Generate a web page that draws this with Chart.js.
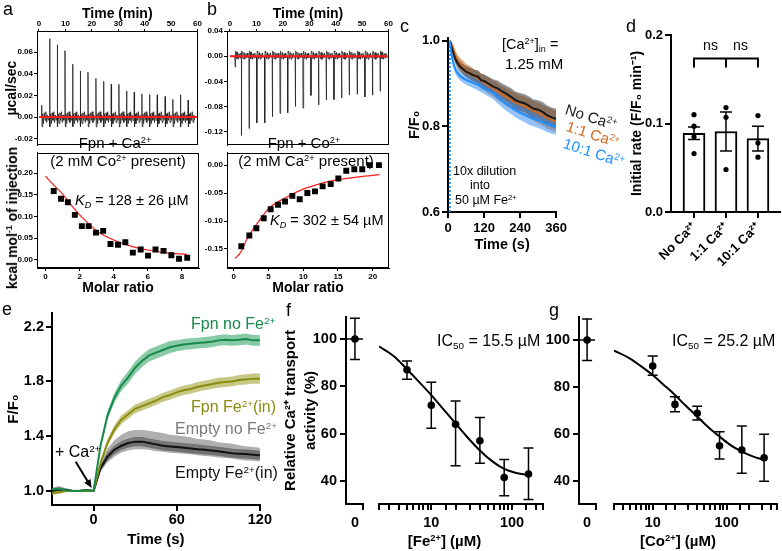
<!DOCTYPE html>
<html>
<head>
<meta charset="utf-8">
<title>Fpn Ca2+ transport</title>
<script src="https://cdn.jsdelivr.net/npm/chart.js@4.4.1/dist/chart.umd.min.js"></script>
<style>
  html, body { margin: 0; padding: 0; background: #fff; }
  body { width: 782px; height: 551px; position: relative; overflow: hidden; font-family: "Liberation Sans", Arial, sans-serif; color: #000; }
  canvas { position: absolute; }
  .t { position: absolute; white-space: nowrap; line-height: 1; }
  .t sup { font-size: 62%; vertical-align: 0.55em; line-height: 0; }
  .t sub { font-size: 62%; vertical-align: -0.3em; line-height: 0; }
</style>
</head>
<body>
<script>
// ---------- a: ITC, Fpn + Ca2+ (2 mM Co2+ present) ----------
const itcTimeRange = [0, 60];
const timeTicks = [0, 10, 20, 30, 40, 50, 60];
const injTimeA = [1.0, 4.0, 6.9, 9.8, 12.7, 15.6, 18.5, 21.5, 24.4, 27.3, 30.2, 33.1, 36.0, 38.9, 41.8, 44.7, 47.7, 50.6, 53.5, 56.4];
const injPeakA = [0.011, 0.0725, 0.0669, 0.0615, 0.049, 0.0427, 0.0415, 0.0358, 0.0331, 0.0304, 0.0304, 0.0242, 0.0233, 0.0215, 0.0209, 0.0206, 0.0191, 0.0164, 0.0206, 0.0158];
const noiseA = [0.003, -0.006, 0.004, -0.003, 0.005, -0.005, 0.002, -0.003];
const molarA = [0.48, 0.91, 1.31, 1.72, 2.13, 2.53, 2.96, 3.38, 3.81, 4.25, 4.68, 5.12, 5.58, 6.01, 6.45, 6.92, 7.38, 7.83, 8.31];
const heatA = [0.159, 0.141, 0.133, 0.104, 0.078, 0.078, 0.063, 0.067, 0.037, 0.035, 0.041, 0.017, 0.024, 0.010, 0.024, 0.021, 0.011, 0.003, 0.005];
const fitMolarA = [0, 0.5, 1, 1.5, 2, 2.5, 3, 4, 5, 6, 7, 8.3];
const fitHeatA = [0.193, 0.172, 0.152, 0.127, 0.104, 0.085, 0.067, 0.046, 0.032, 0.023, 0.017, 0.013];

// ---------- b: ITC, Fpn + Co2+ (2 mM Ca2+ present) ----------
const injTimeB = [1.9, 4.3, 7.2, 10.1, 13.1, 16.0, 18.9, 21.8, 24.7, 27.6, 30.6, 33.5, 36.4, 39.3, 42.2, 45.1, 48.1, 51.0, 53.9, 56.8];
const injPeakB = [-0.017, -0.126, -0.115, -0.106, -0.106, -0.096, -0.091, -0.090, -0.080, -0.0825, -0.0624, -0.0775, -0.0694, -0.0689, -0.0664, -0.0619, -0.0604, -0.0649, -0.062, -0.0558];
const noiseB = [0.007, -0.004, 0.006, -0.005, 0.004, -0.003, 0.005, -0.002];
const molarB = [1.10, 2.25, 3.26, 4.32, 5.32, 6.38, 7.39, 8.44, 9.50, 10.6, 11.7, 12.8, 13.96, 15.06, 16.2, 17.36, 18.5, 19.6, 20.9];
const heatB = [-0.145, -0.126, -0.113, -0.095, -0.079, -0.071, -0.065, -0.055, -0.061, -0.050, -0.047, -0.038, -0.034, -0.024, -0.010, -0.0075, -0.0075, 0.000, 0.000];
const fitMolarB = [0.2, 1, 2, 3, 4, 5, 7.5, 10, 12.5, 15, 18, 21];
const fitHeatB = [-0.167, -0.156, -0.13, -0.111, -0.094, -0.078, -0.058, -0.043, -0.033, -0.026, -0.021, -0.017];

// ---------- c: F/F0 after 10x dilution into 50 uM Fe2+ ----------
const dilutionTime = 6;
const timeC = [6, 10, 15, 20, 25, 30, 40, 50, 60, 70, 80, 90, 100, 110, 120, 135, 150, 165, 180, 195, 210, 225, 240, 255, 270, 285, 300, 315, 330, 345, 360];
const noCa = [1.0, 0.99, 0.978, 0.966, 0.957, 0.95, 0.94, 0.934, 0.928, 0.925, 0.921, 0.918, 0.916, 0.908, 0.906, 0.9, 0.893, 0.889, 0.882, 0.876, 0.869, 0.861, 0.857, 0.854, 0.848, 0.841, 0.839, 0.834, 0.826, 0.821, 0.818];
const noCaSd = [0, 0.006, 0.01, 0.012, 0.012, 0.012, 0.012, 0.012, 0.013, 0.013, 0.014, 0.014, 0.015, 0.015, 0.016, 0.016, 0.017, 0.018, 0.018, 0.019, 0.02, 0.02, 0.021, 0.021, 0.022, 0.022, 0.022, 0.023, 0.023, 0.023, 0.023];
const ca11 = [1.0, 0.993, 0.984, 0.973, 0.964, 0.956, 0.946, 0.939, 0.931, 0.926, 0.921, 0.916, 0.912, 0.906, 0.902, 0.895, 0.889, 0.881, 0.875, 0.868, 0.862, 0.856, 0.851, 0.847, 0.842, 0.836, 0.831, 0.826, 0.82, 0.815, 0.812];
const ca11Sd = [0, 0.008, 0.012, 0.014, 0.014, 0.014, 0.014, 0.015, 0.015, 0.016, 0.016, 0.017, 0.017, 0.018, 0.018, 0.019, 0.019, 0.02, 0.02, 0.021, 0.021, 0.022, 0.022, 0.022, 0.023, 0.023, 0.024, 0.024, 0.025, 0.025, 0.025];
const ca101 = [1.0, 0.976, 0.956, 0.942, 0.932, 0.926, 0.918, 0.913, 0.909, 0.906, 0.903, 0.9, 0.897, 0.893, 0.889, 0.884, 0.878, 0.869, 0.86, 0.852, 0.845, 0.838, 0.832, 0.827, 0.822, 0.818, 0.814, 0.81, 0.806, 0.802, 0.8];
const ca101Sd = [0, 0.006, 0.008, 0.009, 0.01, 0.01, 0.011, 0.011, 0.011, 0.012, 0.012, 0.012, 0.013, 0.013, 0.013, 0.014, 0.014, 0.015, 0.015, 0.016, 0.016, 0.017, 0.017, 0.017, 0.018, 0.018, 0.018, 0.018, 0.019, 0.019, 0.019];

// ---------- d: initial rates ----------
const dLabels = ['No Ca²⁺', '1:1 Ca²⁺', '10:1 Ca²⁺'];
const dRate = [0.089, 0.091, 0.083];
const dSem = [0.007, 0.022, 0.014];
const dDots = [[0.110, 0.097, 0.085, 0.066], [0.118, 0.107, 0.048], [0.109, 0.078, 0.062]];

// ---------- e: Ca2+ uptake ----------
const timeE = [-30, -25, -20, -15, -10, -5, 0, 5, 10, 15, 20, 25, 30, 35, 40, 45, 50, 55, 60, 65, 70, 75, 80, 85, 90, 95, 100, 105, 110, 115, 120];
const fpnNoFe = [1.01, 1.015, 1.005, 1.0, 1.0, 1.005, 1.0, 1.33, 1.55, 1.68, 1.77, 1.83, 1.9, 1.95, 1.99, 2.01, 2.03, 2.05, 2.06, 2.07, 2.075, 2.08, 2.085, 2.09, 2.1, 2.105, 2.1, 2.105, 2.11, 2.1, 2.1];
const fpnNoFeSd = [0.01, 0.01, 0.008, 0.006, 0.006, 0.006, 0.005, 0.02, 0.03, 0.035, 0.04, 0.045, 0.045, 0.045, 0.045, 0.045, 0.045, 0.045, 0.04, 0.04, 0.04, 0.04, 0.04, 0.04, 0.04, 0.04, 0.04, 0.04, 0.04, 0.04, 0.04];
const fpnFe = [0.985, 0.99, 1.0, 1.0, 1.0, 1.0, 1.0, 1.2, 1.35, 1.45, 1.52, 1.56, 1.6, 1.62, 1.64, 1.66, 1.685, 1.7, 1.72, 1.735, 1.745, 1.76, 1.77, 1.78, 1.79, 1.795, 1.8, 1.81, 1.815, 1.82, 1.82];
const fpnFeSd = [0.015, 0.012, 0.008, 0.006, 0.006, 0.006, 0.005, 0.02, 0.025, 0.03, 0.032, 0.032, 0.032, 0.032, 0.033, 0.033, 0.033, 0.034, 0.034, 0.035, 0.035, 0.035, 0.035, 0.036, 0.036, 0.036, 0.036, 0.037, 0.037, 0.037, 0.037];
const emptyNoFe = [1.01, 1.02, 1.01, 1.0, 1.0, 1.005, 1.0, 1.17, 1.26, 1.31, 1.345, 1.365, 1.375, 1.375, 1.37, 1.36, 1.355, 1.345, 1.34, 1.335, 1.33, 1.32, 1.315, 1.31, 1.3, 1.295, 1.29, 1.28, 1.275, 1.27, 1.265];
const emptyNoFeSd = [0.015, 0.015, 0.01, 0.008, 0.008, 0.008, 0.006, 0.03, 0.05, 0.06, 0.065, 0.07, 0.07, 0.07, 0.07, 0.07, 0.068, 0.066, 0.065, 0.064, 0.062, 0.06, 0.06, 0.058, 0.056, 0.055, 0.054, 0.053, 0.052, 0.05, 0.05];
const emptyFe = [1.0, 1.01, 1.005, 1.0, 1.0, 1.005, 1.0, 1.165, 1.25, 1.3, 1.33, 1.35, 1.36, 1.36, 1.35, 1.34, 1.33, 1.325, 1.32, 1.315, 1.31, 1.305, 1.3, 1.295, 1.29, 1.283, 1.275, 1.272, 1.27, 1.265, 1.26];
const emptyFeSd = [0.01, 0.01, 0.008, 0.006, 0.006, 0.006, 0.005, 0.02, 0.03, 0.03, 0.032, 0.032, 0.033, 0.033, 0.033, 0.033, 0.034, 0.034, 0.034, 0.034, 0.034, 0.034, 0.034, 0.033, 0.033, 0.033, 0.033, 0.033, 0.033, 0.033, 0.033];

// ---------- f: Fe2+ inhibition ----------
const zeroConc = 0;
const feZero = [100], feZeroLo = [91.3], feZeroHi = [108.8];
const feConc = [5, 10, 20, 40, 80, 160];
const feAct = [87, 72, 64, 57, 41.5, 43];
const feLo = [83, 62.3, 46.5, 47.5, 33.8, 32.2];
const feHi = [90.7, 81.7, 73.8, 66.8, 49.1, 54];
const feFitX = [2.25, 3.5, 5, 7, 10, 14, 20, 28, 40, 56, 80, 110, 155];
const feFitY = [96.9, 92.5, 87.2, 82, 76.3, 70.5, 64.3, 58.5, 52.9, 48.5, 45.1, 43.5, 42.6];

// ---------- g: Co2+ inhibition ----------
const coZero = [100], coZeroLo = [91.3], coZeroHi = [108.9];
const coConc = [10, 20, 40, 80, 160, 320];
const coAct = [88.9, 72.6, 68.8, 55.0, 53.2, 49.9];
const coLo = [85.0, 69.5, 66.0, 49.4, 43.3, 39.9];
const coHi = [93.2, 75.9, 71.8, 61.0, 63.4, 59.9];
const coFitX = [3, 5, 7, 10, 14, 20, 28, 40, 56, 80, 110, 160, 220, 320];
const coFitY = [95.5, 92, 88.8, 85.1, 81, 76.6, 72, 67.4, 63, 58.9, 55.5, 52.5, 50.6, 48.9];
const pctTicks = [40, 60, 80, 100];

Chart.defaults.font.family = '"Liberation Sans", Arial, sans-serif';
Chart.defaults.color = '#000';
Chart.defaults.plugins.legend.display = false;
Chart.defaults.plugins.tooltip.enabled = false;

const pts = (xs, ys) => xs.map((x, i) => ({ x, y: ys[i] }));

// injection trace: peak, rebound, then baseline noise after each injection
function itcTrace(times, peaks, rebound, noise) {
  const out = [{ x: itcTimeRange[0], y: 0 }];
  times.forEach((t, i) => {
    out.push({ x: t - 0.05, y: 0 });
    out.push({ x: t + 0.04, y: peaks[i] });
    out.push({ x: t + 0.16, y: rebound });
    noise.forEach((n, k) => out.push({ x: t + 0.4 + k * 0.3, y: n }));
  });
  return out;
}

function band(xs, mean, sd, color) {
  return [
    { data: xs.map((x, i) => ({ x, y: mean[i] + sd[i] })), borderWidth: 0, pointRadius: 0, fill: '+1', backgroundColor: color },
    { data: xs.map((x, i) => ({ x, y: mean[i] - sd[i] })), borderWidth: 0, pointRadius: 0, fill: false }
  ];
}

function meanLine(xs, ys, color) {
  return { data: pts(xs, ys), borderColor: color, borderWidth: 2, pointRadius: 0, fill: false };
}

function axis(o) {
  const vert = o.pos === 'left' || o.pos === 'right';
  const a = {
    type: o.type || 'linear',
    position: o.pos,
    display: o.display !== false,
    min: o.min, max: o.max,
    offset: false,
    afterFit: s => { if (vert) s.width = o.size || 0; else s.height = o.size || 0; },
    ticks: {
      autoSkip: false, maxRotation: o.rot || 0, minRotation: o.rot || 0,
      padding: o.tp || 0, color: '#000',
      font: { size: o.fs || 12, weight: 'bold' },
      callback: o.fmt || (v => v)
    },
    grid: { offset: false, drawOnChartArea: false, drawTicks: true, tickLength: o.tl || 5, lineWidth: o.lw || 1, tickWidth: o.lw || 1, color: '#000', tickColor: o.tickColor || '#000' },
    border: { display: true, color: '#000', width: o.lw || 1 },
    title: { display: !!o.title, text: o.title || '', color: '#000', font: { size: o.tfs || 14, weight: 'bold', lineHeight: o.tlh || 1.2 }, padding: { top: o.tpad || 0, bottom: o.tpad || 0 } }
  };
  if (o.ticks) a.afterBuildTicks = s => { s.ticks = o.ticks.map(v => ({ value: v })); };
  return a;
}

const logFmt = v => {
  const l = Math.log10(v);
  return (Math.abs(l - Math.round(l)) < 1e-6 && v >= 10) ? String(Math.round(v)) : '';
};

// error bars drawn right after their dataset
Chart.register({
  id: 'errs',
  afterDatasetDraw(chart, args) {
    const ds = chart.data.datasets[args.index];
    if (!ds.errLo && !ds.meanBar) return;
    const meta = args.meta;
    const ys = chart.scales[meta.yAxisID];
    const ctx = chart.ctx;
    ctx.save();
    ctx.strokeStyle = '#000';
    ctx.lineWidth = ds.errWidth || 1.5;
    meta.data.forEach((el, j) => {
      const x = el.x;
      ctx.beginPath();
      if (ds.errLo) {
        const y1 = ys.getPixelForValue(ds.errLo[j]), y2 = ys.getPixelForValue(ds.errHi[j]);
        const c = ds.cap || 5;
        ctx.moveTo(x, y1); ctx.lineTo(x, y2);
        ctx.moveTo(x - c, y1); ctx.lineTo(x + c, y1);
        ctx.moveTo(x - c, y2); ctx.lineTo(x + c, y2);
      }
      if (ds.meanBar) { ctx.moveTo(x - ds.meanBar, el.y); ctx.lineTo(x + ds.meanBar, el.y); }
      ctx.stroke();
    });
    ctx.restore();
  }
});

const frame = {
  id: 'frame',
  afterDraw(chart) {
    const a = chart.chartArea, c = chart.ctx;
    c.save(); c.strokeStyle = '#000'; c.lineWidth = 1;
    c.strokeRect(Math.round(a.left) + 0.5, Math.round(a.top) + 0.5, Math.round(a.right - a.left) - 1, Math.round(a.bottom - a.top) - 1);
    c.restore();
  }
};

const bracket = {
  id: 'bracket',
  afterDatasetsDraw(chart) {
    const { x, y } = chart.scales, c = chart.ctx;
    const yt = y.getPixelForValue(0.1735), yf = y.getPixelForValue(0.1633);
    const xs = [0, 1, 2].map(v => x.getPixelForValue(v));
    c.save(); c.strokeStyle = '#000'; c.lineWidth = 2; c.beginPath();
    c.moveTo(xs[0], yf); c.lineTo(xs[0], yt); c.lineTo(xs[2], yt); c.lineTo(xs[2], yf);
    c.moveTo(xs[1], yt); c.lineTo(xs[1], yf);
    c.stroke(); c.restore();
  }
};

const arrowE = {
  id: 'arrowE',
  afterDatasetsDraw(chart) {
    const { x, y } = chart.scales, c = chart.ctx;
    const x1 = x.getPixelForValue(-12.9), y1 = y.getPixelForValue(1.213);
    const x2 = x.getPixelForValue(-1.4), y2 = y.getPixelForValue(1.022);
    const ang = Math.atan2(y2 - y1, x2 - x1);
    c.save(); c.strokeStyle = '#000'; c.fillStyle = '#000'; c.lineWidth = 2;
    c.beginPath(); c.moveTo(x1, y1); c.lineTo(x2 - 6 * Math.cos(ang), y2 - 6 * Math.sin(ang)); c.stroke();
    c.beginPath(); c.moveTo(x2, y2);
    c.lineTo(x2 - 9 * Math.cos(ang - 0.42), y2 - 9 * Math.sin(ang - 0.42));
    c.lineTo(x2 - 9 * Math.cos(ang + 0.42), y2 - 9 * Math.sin(ang + 0.42));
    c.closePath(); c.fill(); c.restore();
  }
};

function make(x, y, w, h, pad, cfg) {
  const cv = document.createElement('canvas');
  cv.width = w; cv.height = h;
  cv.style.left = x + 'px'; cv.style.top = y + 'px';
  cv.style.width = w + 'px'; cv.style.height = h + 'px';
  document.body.appendChild(cv);
  cfg.options = Object.assign({ responsive: false, maintainAspectRatio: false, animation: false, devicePixelRatio: 1, layout: { padding: pad, autoPadding: false } }, cfg.options);
  return new Chart(cv, cfg);
}

function txt(html, x, y, size, o = {}) {
  const d = document.createElement('div');
  d.className = 't';
  d.innerHTML = html;
  d.style.left = x + 'px';
  d.style.top = (y - size / 2) + 'px';
  d.style.fontSize = size + 'px';
  d.style.color = o.color || '#000';
  if (o.bold) d.style.fontWeight = 'bold';
  const tf = [];
  if (o.center) tf.push('translateX(-50%)');
  if (o.rot) tf.push('rotate(' + o.rot + 'deg)');
  if (tf.length) { d.style.transform = tf.join(' '); d.style.transformOrigin = o.center ? '50% 50%' : '0 50%'; }
  document.body.appendChild(d);
}

const red = '#ff1a1a';

// ---- a (top) ----
make(0, 0, 202, 151, { left: 0, top: 0, right: 3, bottom: 2 }, {
  type: 'line',
  data: { datasets: [
    { data: pts(itcTimeRange, [0, 0]), borderColor: red, borderWidth: 2, pointRadius: 0 },
    { data: itcTrace(injTimeA, injPeakA, -0.009, noiseA), borderColor: '#222', borderWidth: 0.8, pointRadius: 0 }
  ]},
  options: { scales: {
    x: axis({ pos: 'top', min: -0.75, max: 60, ticks: timeTicks, size: 31, fs: 8, lw: 1, tl: 2, tp: 0, title: 'Time (min)', tfs: 14, tpad: 6 }),
    y: axis({ pos: 'left', min: -0.026, max: 0.0797, ticks: [-0.02, 0, 0.02, 0.04, 0.06], size: 37, fs: 8, lw: 1, tl: 3, tp: 1, fmt: v => v.toFixed(2), title: 'µcal/sec', tfs: 14, tpad: 3.5 })
  }},
  plugins: [frame]
});
// ---- a (bottom) ----
make(0, 147, 202, 153, { left: 0, top: 2, right: 3, bottom: 0 }, {
  type: 'line',
  data: { datasets: [
    { data: pts(molarA, heatA), showLine: false, pointStyle: 'rect', pointRadius: 4.2, pointBackgroundColor: '#000', pointBorderWidth: 0 },
    { data: pts(fitMolarA, fitHeatA), borderColor: red, borderWidth: 1.2, pointRadius: 0, cubicInterpolationMode: 'monotone' }
  ]},
  options: { scales: {
    x: axis({ pos: 'bottom', min: -0.5, max: 9, ticks: [0, 2, 4, 6, 8], size: 32, fs: 8, lw: 1, tl: 3, tp: 1, title: 'Molar ratio', tfs: 14, tpad: 3 }),
    y: axis({ pos: 'left', min: -0.0185, max: 0.247, ticks: [0, 0.05, 0.1, 0.15, 0.2], size: 37, fs: 8, lw: 1, tl: 3, tp: 1, fmt: v => v.toFixed(2) })
  }},
  plugins: [frame]
});

// ---- b (top) ----
make(195, 0, 198, 151, { left: 0, top: 0, right: 4, bottom: 2 }, {
  type: 'line',
  data: { datasets: [
    { data: pts(itcTimeRange, [0, 0]), borderColor: red, borderWidth: 2, pointRadius: 0 },
    { data: itcTrace(injTimeB, injPeakB, 0.008, noiseB), borderColor: '#222', borderWidth: 0.8, pointRadius: 0 }
  ]},
  options: { scales: {
    x: axis({ pos: 'top', min: -1.13, max: 60.15, ticks: timeTicks, size: 31, fs: 8, lw: 1, tl: 2, tp: 0, title: 'Time (min)', tfs: 14, tpad: 6 }),
    y: axis({ pos: 'left', min: -0.1415, max: 0.04, ticks: [-0.12, -0.08, -0.04, 0, 0.04], size: 32, fs: 8, lw: 1, tl: 3, tp: 1, fmt: v => v.toFixed(2) })
  }},
  plugins: [frame]
});
// ---- b (bottom) ----
make(195, 147, 198, 153, { left: 0, top: 2, right: 4, bottom: 0 }, {
  type: 'line',
  data: { datasets: [
    { data: pts(molarB, heatB), showLine: false, pointStyle: 'rect', pointRadius: 4.2, pointBackgroundColor: '#000', pointBorderWidth: 0 },
    { data: pts(fitMolarB, fitHeatB), borderColor: red, borderWidth: 1.2, pointRadius: 0, cubicInterpolationMode: 'monotone' }
  ]},
  options: { scales: {
    x: axis({ pos: 'bottom', min: -0.96, max: 22.35, ticks: [0, 5, 10, 15, 20], size: 32, fs: 8, lw: 1, tl: 3, tp: 1, title: 'Molar ratio', tfs: 14, tpad: 3 }),
    y: axis({ pos: 'left', min: -0.184, max: 0.022, ticks: [-0.15, -0.1, -0.05, 0], size: 32, fs: 8, lw: 1, tl: 3, tp: 1, fmt: v => v.toFixed(2) })
  }},
  plugins: [frame]
});

// ---- c ----
const cBlack = '#1a1a1a', cOrange = '#d2691e', cBlue = '#1e8fff';
make(398, 28, 172, 227, { left: 0, top: 6, right: 5, bottom: 0 }, {
  type: 'line',
  data: { datasets: [
    meanLine(timeC, ca101, cBlue),
    meanLine(timeC, noCa, cBlack),
    meanLine(timeC, ca11, cOrange),
    ...band(timeC, ca101, ca101Sd, 'rgba(40,135,245,0.5)'),
    ...band(timeC, noCa, noCaSd, 'rgba(70,70,70,0.6)'),
    ...band(timeC, ca11, ca11Sd, 'rgba(215,120,45,0.6)'),
    { data: pts([dilutionTime, dilutionTime], [0.6, 1.0]), borderColor: cBlue, borderWidth: 2, borderDash: [2, 2], pointRadius: 0 }
  ]},
  options: { scales: {
    x: axis({ pos: 'bottom', min: 0, max: 360, ticks: [0, 120, 240, 360], size: 43, fs: 13, lw: 2, tl: 6, tp: 3, title: 'Time (s)', tfs: 14.5, tpad: 1.5 }),
    y: axis({ pos: 'left', min: 0.6, max: 1.007, ticks: [0.6, 0.8, 1.0], size: 50, fs: 13, lw: 2, tl: 6, tp: 2, fmt: v => v.toFixed(1), title: 'F/F₀', tfs: 14.5, tpad: 8 })
  }}
});

// ---- d ----
const dotPts = [];
dDots.forEach((arr, i) => arr.forEach(v => dotPts.push({ x: i, y: v })));
make(625, 20, 157, 280, { left: 0, top: 15, right: 2, bottom: 0 }, {
  type: 'bar',
  data: { datasets: [
    { type: 'line', data: dotPts, showLine: false, pointRadius: 2.6, pointBackgroundColor: '#000', pointBorderWidth: 0 },
    { data: pts([0, 1, 2], dRate), backgroundColor: '#fff', borderColor: '#000', borderWidth: 2, barThickness: 22,
      errLo: dRate.map((v, i) => v - dSem[i]), errHi: dRate.map((v, i) => v + dSem[i]), cap: 6, errWidth: 1.5 }
  ]},
  options: { scales: {
    x: axis({ pos: 'bottom', min: -0.72, max: 2.69, ticks: [0, 1, 2], size: 88, fs: 13, lw: 2, tl: 6, tp: 2, rot: 45, fmt: v => dLabels[v] }),
    y: axis({ pos: 'left', min: 0, max: 0.2, ticks: [0, 0.1, 0.2], size: 46, fs: 13, lw: 2, tl: 6, tp: 2, fmt: v => v.toFixed(1), title: 'Initial rate (F/F₀ min⁻¹)', tfs: 14, tpad: 3.6 })
  }},
  plugins: [bracket]
});

// ---- e ----
const eGreen = '#17894a', eOlive = '#8b8b10', eGrey = '#7a7a7a', eBlack = '#111';
make(0, 300, 272, 250, { left: 0, top: 13, right: 10, bottom: 0 }, {
  type: 'line',
  data: { datasets: [
    meanLine(timeE, fpnNoFe, eGreen),
    meanLine(timeE, fpnFe, eOlive),
    meanLine(timeE, emptyFe, eBlack),
    meanLine(timeE, emptyNoFe, eGrey),
    ...band(timeE, fpnNoFe, fpnNoFeSd, 'rgba(40,160,95,0.55)'),
    ...band(timeE, fpnFe, fpnFeSd, 'rgba(155,155,35,0.55)'),
    ...band(timeE, emptyFe, emptyFeSd, 'rgba(50,50,50,0.5)'),
    ...band(timeE, emptyNoFe, emptyNoFeSd, 'rgba(110,110,110,0.55)')
  ]},
  options: { scales: {
    x: axis({ pos: 'bottom', min: -30, max: 120, ticks: [0, 60, 120], size: 45, fs: 14.5, lw: 2, tl: 6, tp: 0, title: 'Time (s)', tfs: 15, tpad: 1 }),
    y: axis({ pos: 'left', min: 0.897, max: 2.3, ticks: [1.0, 1.4, 1.8, 2.2], size: 52, fs: 14.5, lw: 2, tl: 6, tp: 2, fmt: v => v.toFixed(1), title: 'F/F₀', tfs: 15, tpad: 5 })
  }},
  plugins: [arrowE]
});

// ---- f / g: broken x axis (zero segment + log segment) ----
const hideZeroTick = c => (c.tick && c.tick.value === 0) ? 'rgba(0,0,0,0)' : '#000';
function zeroSeg(x, w, yw, ymin, ymax, y0, lo, hi, xmax, title) {
  make(x, 300, w, 250, { left: 0, top: 17, right: 2, bottom: 0 }, {
    type: 'line',
    data: { datasets: [
      { data: pts([zeroConc], y0), showLine: false, pointRadius: 3.8, pointBackgroundColor: '#000', pointBorderWidth: 0, errLo: lo, errHi: hi, meanBar: 8 }
    ]},
    options: { scales: {
      x: axis({ pos: 'bottom', min: -1, max: xmax, ticks: [0, xmax], size: 46, fs: 14.5, lw: 2, tl: 6, tp: 4, fmt: v => v === 0 ? '0' : '', tickColor: hideZeroTick }),
      y: axis({ pos: 'left', min: ymin, max: ymax, ticks: pctTicks, size: yw, fs: 14.5, lw: 2, tl: 6, tp: 3, title: title, tfs: 15, tlh: 1.33, tpad: 13 })
    }}
  });
}
function logSeg(x, padL, padR, xmin, xmax, ymin, ymax, cx, cy, lo, hi, fx, fy) {
  make(x, 300, 182, 250, { left: padL, top: 17, right: padR, bottom: 0 }, {
    type: 'line',
    data: { datasets: [
      { data: pts(cx, cy), showLine: false, pointRadius: 3.8, pointBackgroundColor: '#000', pointBorderWidth: 0, errLo: lo, errHi: hi },
      { data: pts(fx, fy), borderColor: '#000', borderWidth: 2, pointRadius: 0, cubicInterpolationMode: 'monotone' }
    ]},
    options: { scales: {
      x: axis({ type: 'logarithmic', pos: 'bottom', min: xmin, max: xmax, size: 46, fs: 14.5, lw: 2, tl: 6, tp: 4, fmt: logFmt }),
      y: axis({ pos: 'left', display: false, min: ymin, max: ymax, size: 0 })
    }}
  });
}
zeroSeg(268, 99, 78, 30.3, 109.3, feZero, feZeroLo, feZeroHi, 0.9, ['Relative Ca²⁺ transport', 'activity (%)']);
logSeg(365, 14, 4, 2.25, 242, 30.3, 109.3, feConc, feAct, feLo, feHi, feFitX, feFitY);
zeroSeg(540, 60, 39, 30.2, 109.8, coZero, coZeroLo, coZeroHi, 1.1, '');
logSeg(600, 14, 5, 3.0, 478, 30.2, 109.8, coConc, coAct, coLo, coHi, coFitX, coFitY);

// ---- text annotations ----
txt('a', 3, 8.5, 18);
txt('b', 207, 9, 18);
txt('c', 400, 25.5, 18);
txt('d', 626, 26, 18);
txt('e', 2, 308.5, 18);
txt('f', 286, 310, 18);
txt('g', 549, 310, 18);

txt('kcal mol<sup>-1</sup> of injection', 12, 218, 14, { center: true, bold: true, rot: -90 });
txt('Fpn + Ca<sup>2+</sup>', 115, 142, 15, { center: true });
txt('(2 mM Co<sup>2+</sup> present)', 118, 160, 15, { center: true });
txt('<i>K<sub>D</sub></i> = 128 ± 26 µM', 75, 200, 14.5);
txt('Fpn + Co<sup>2+</sup>', 304, 142, 15, { center: true });
txt('(2 mM Ca<sup>2+</sup> present)', 306, 160, 15, { center: true });
txt('<i>K<sub>D</sub></i> = 302 ± 54 µM', 270, 220, 14.5);

txt('[Ca<sup>2+</sup>]<sub>in</sub> =', 502, 44, 14.5);
txt('1.25 mM', 505, 63.5, 15);
txt('10x dilution', 453, 171, 12.5);
txt('into', 480, 185, 12.5, { center: true });
txt('50 µM Fe<sup>2+</sup>', 455, 200, 12.5);
txt('No Ca<sup>2+</sup>', 566, 108, 15, { rot: 18, color: cBlack });
txt('1:1 Ca<sup>2+</sup>', 567, 125, 15, { rot: 18, color: cOrange });
txt('10:1 Ca<sup>2+</sup>', 564, 142, 15, { rot: 18, color: cBlue });

txt('ns', 710.5, 45, 14, { center: true });
txt('ns', 740.5, 45, 14, { center: true });

txt('Fpn no Fe<sup>2+</sup>', 191, 324, 16, { color: eGreen });
txt('Fpn Fe<sup>2+</sup>(in)', 191, 407, 16, { color: eOlive });
txt('Empty no Fe<sup>2+</sup>', 175, 429, 16, { color: eGrey });
txt('Empty Fe<sup>2+</sup>(in)', 175, 473, 16, { color: eBlack });
txt('+ Ca<sup>2+</sup>', 55, 452, 16);

txt('IC<sub>50</sub> = 15.5 µM', 437, 341, 16);
txt('IC<sub>50</sub> = 25.2 µM', 672, 341, 16);
txt('[Fe<sup>2+</sup>] (µM)', 444.5, 540, 15, { center: true, bold: true });
txt('[Co<sup>2+</sup>] (µM)', 678, 540, 15, { center: true, bold: true });
</script>
</body>
</html>
